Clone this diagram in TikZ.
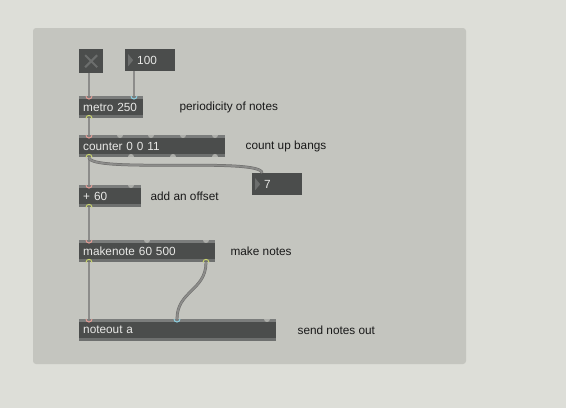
\documentclass[tikz,border=0pt]{standalone}
\usepackage{fontspec}
\setmainfont{Liberation Sans}
\usepackage{tikz}
\usetikzlibrary{positioning}
\definecolor{backcol}{HTML}{DDDED8}
\definecolor{panelcol}{HTML}{C4C5BF}
\definecolor{objfill}{HTML}{4B4D4C}
\definecolor{striptop}{HTML}{7B7D7C}
\definecolor{stripbot}{HTML}{6E706F}
\definecolor{objtext}{HTML}{E8E8E6}
\definecolor{markcol}{HTML}{6C6E6D}
\definecolor{cordcol}{HTML}{8C8C8A}
\definecolor{cordedge}{HTML}{6A6A68}
\definecolor{inred}{HTML}{E59C95}
\definecolor{incyan}{HTML}{8DD0E2}
\definecolor{outyellow}{HTML}{C9D46C}
\definecolor{portgray}{HTML}{ADAEAA}
\newcommand{\patchfont}{\fontsize{11.8}{14}\selectfont}
\tikzset{
    maxobj/.style={
           rectangle,
           fill=objfill,
           anchor=north west,
           minimum height=22pt,
           inner xsep=4pt, inner ysep=0pt,
           align=left,
           text=objtext,
           font=\patchfont,
           path picture={
               \fill[striptop] (path picture bounding box.north west) rectangle ([yshift=-3pt]path picture bounding box.north east);
               \fill[stripbot] (path picture bounding box.south west) rectangle ([yshift=3pt]path picture bounding box.south east);
           },
           },
    numbox/.style={
           rectangle,
           fill=objfill,
           anchor=north west,
           minimum height=22pt,
           inner sep=0pt,
           text width=50pt,
           align=left,
           text=objtext,
           font=\patchfont,
           path picture={
               \fill[markcol] ([xshift=3pt,yshift=-5pt]path picture bounding box.north west)
                   -- ([xshift=3pt,yshift=5pt]path picture bounding box.south west)
                   -- ([xshift=8pt]path picture bounding box.west) -- cycle;
           },
           },
    togglebox/.style={
           rectangle,
           fill=objfill,
           anchor=north west,
           minimum size=24pt,
           inner sep=0pt,
           path picture={
               \draw[markcol, line width=2pt]
                   ([xshift=-6pt,yshift=6pt]path picture bounding box.center) -- ([xshift=6pt,yshift=-6pt]path picture bounding box.center)
                   ([xshift=-6pt,yshift=-6pt]path picture bounding box.center) -- ([xshift=6pt,yshift=6pt]path picture bounding box.center);
           },
           },
    comment/.style={
           font=\patchfont,
           text=black!90,
           inner sep=0pt,
           anchor=west,
           },
    cord/.style={
           draw=cordedge,
           line width=0.5pt,
           double=cordcol,
           double distance=1.8pt,
           },
    inport/.style={line width=1pt},
    outport/.style={line width=1pt},
}

\begin{document}
\begin{tikzpicture}[x=1pt, y=-1pt]
    % background and patcher window
    \useasboundingbox[fill=backcol] (0,0) rectangle (566,408);
    \fill[panelcol, rounded corners=3pt] (33,28) rectangle (466,364);

    % interface objects
    \node[togglebox] (toggle) at (79,49) {};
    \node[numbox] (period) at (125,49) {\hspace*{12pt}100};
    \node[numbox] (shownum) at (252,173) {\hspace*{12pt}7};

    % objects, top to bottom
    \node[maxobj, text width=56pt] (metro) at (79,96) {metro 250};
    \node[maxobj, text width=138pt] (counter) at (79,135) {counter 0 0 11};
    \node[maxobj, text width=54pt] (offset) at (79,185) {+ 60};
    \node[maxobj, text width=128pt] (makenote) at (79,240) {makenote 60 500};
    \node[maxobj, text width=189pt] (noteout) at (79,319) {noteout a};

    % comments on the right
    \node[comment, right=36pt of metro] (c-metro) {periodicity of notes};
    \node[comment, right=20pt of counter] (c-counter) {count up bangs};
    \node[comment, right=9pt of offset] (c-offset) {add an offset};
    \node[comment, right=15pt of makenote] (c-makenote) {make notes};
    \node[comment, right=21pt of noteout] (c-noteout) {send notes out};

    % inlets and outlets
    \coordinate (toggle-out0) at ([xshift=10pt]toggle.south west);
    \coordinate (period-out0) at ([xshift=9pt]period.south west);
    \coordinate (shownum-in0) at ([xshift=10pt]shownum.north west);
    \coordinate (metro-in0) at ([xshift=10pt]metro.north west);
    \coordinate (metro-in1) at ([xshift=55pt]metro.north west);
    \coordinate (metro-out0) at ([xshift=10pt]metro.south west);
    \coordinate (counter-in0) at ([xshift=10pt]counter.north west);
    \coordinate (counter-out0) at ([xshift=10pt]counter.south west);
    \coordinate (offset-in0) at ([xshift=10pt]offset.north west);
    \coordinate (offset-out0) at ([xshift=10pt]offset.south west);
    \coordinate (makenote-in0) at ([xshift=10pt]makenote.north west);
    \coordinate (makenote-out0) at ([xshift=10pt]makenote.south west);
    \coordinate (makenote-out1) at ([xshift=127pt]makenote.south west);
    \coordinate (noteout-in0) at ([xshift=10pt]noteout.north west);
    \coordinate (noteout-in1) at ([xshift=98pt]noteout.north west);

    % patch cords
    \draw[cord] (toggle-out0) -- (metro-in0);
    \draw[cord] (period-out0) -- (metro-in1);
    \draw[cord] (metro-out0) -- (counter-in0);
    \draw[cord] (counter-out0) -- (offset-in0);
    \draw[cord] (counter-out0) .. controls +(0,16) and +(0,-16) .. (shownum-in0);
    \draw[cord] (offset-out0) -- (makenote-in0);
    \draw[cord] (makenote-out0) -- (noteout-in0);
    \draw[cord] (makenote-out1) .. controls +(0,28) and +(0,-28) .. (noteout-in1);

    % connected inlets and outlets
    \foreach \p/\c in {metro-in0/inred, metro-in1/incyan, counter-in0/inred,
                       offset-in0/inred, makenote-in0/inred, noteout-in0/inred,
                       noteout-in1/incyan}
        \filldraw[inport, draw=\c, fill=striptop] ([xshift=-3pt]\p) .. controls +(0,4) and +(0,4) .. ([xshift=3pt]\p);
    \foreach \p in {metro-out0, counter-out0, offset-out0, makenote-out0, makenote-out1}
        \filldraw[outport, draw=outyellow, fill=stripbot] ([xshift=-3pt]\p) .. controls +(0,-4) and +(0,-4) .. ([xshift=3pt]\p);

    % free inlets and outlets
    \foreach \o/\n in {41/counter, 72/counter, 104/counter, 136/counter,
                       52/offset, 68/makenote, 127/makenote, 188/noteout}
        \fill[portgray] ([xshift=\o pt-3pt]\n.north west) .. controls +(0,4) and +(0,4) .. ([xshift=\o pt+3pt]\n.north west);
    \foreach \o in {52, 94, 136}
        \fill[portgray] ([xshift=\o pt-3pt]counter.south west) .. controls +(0,-4) and +(0,-4) .. ([xshift=\o pt+3pt]counter.south west);
\end{tikzpicture}
\end{document}
